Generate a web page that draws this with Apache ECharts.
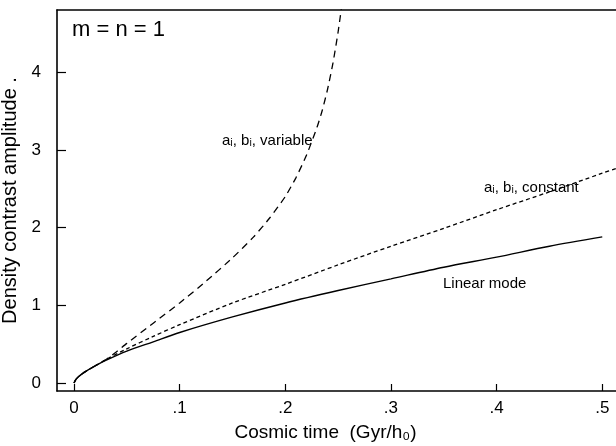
<!DOCTYPE html>
<html><head><meta charset="utf-8">
<script src="https://cdn.jsdelivr.net/npm/echarts@6/dist/echarts.min.js"></script>
<style>html,body{margin:0;padding:0;background:#fff}#c{width:616px;height:446px}</style>
</head><body><div id="c"></div>
<script>
const linearT = [0, 0.002, 0.005, 0.01, 0.02, 0.03, 0.05, 0.075, 0.1, 0.15, 0.2, 0.25, 0.3, 0.35, 0.4, 0.45, 0.5];
const linearV = [0, 0.05, 0.09, 0.14, 0.22, 0.29, 0.41, 0.53, 0.65, 0.85, 1.03, 1.19, 1.34, 1.49, 1.62, 1.76, 1.88];
const constT = [0, 0.002, 0.005, 0.01, 0.02, 0.03, 0.05, 0.075, 0.1, 0.15, 0.2, 0.25, 0.3, 0.35, 0.4, 0.45, 0.5, 0.513];
const constV = [0, 0.05, 0.09, 0.14, 0.22, 0.30, 0.44, 0.60, 0.75, 1.03, 1.27, 1.52, 1.76, 1.99, 2.23, 2.46, 2.70, 2.76];
const varT = [0, 0.002, 0.005, 0.01, 0.02, 0.03, 0.04, 0.05, 0.075, 0.1, 0.125, 0.15, 0.17, 0.185, 0.2, 0.21, 0.22, 0.23, 0.235, 0.24, 0.245, 0.25, 0.255, 0.26];
const varV = [0, 0.05, 0.09, 0.14, 0.22, 0.30, 0.40, 0.51, 0.77, 1.03, 1.31, 1.61, 1.88, 2.12, 2.40, 2.64, 2.93, 3.29, 3.51, 3.78, 4.11, 4.52, 5.02, 5.60];
const xTicks = [0, 0.1, 0.2, 0.3, 0.4, 0.5];
const xTickLabels = ['0', '.1', '.2', '.3', '.4', '.5'];
const yTicks = [0, 1, 2, 3, 4];
const yTickLabels = ['0', '1', '2', '3', '4'];

const FONT = 'Liberation Sans, Arial, sans-serif';
const zip = (a, b) => a.map((t, i) => [t, b[i]]);
const chart = echarts.init(document.getElementById('c'), null, {renderer: 'canvas'});
chart.setOption({
  animation: false,
  backgroundColor: '#fff',
  grid: {left: 57, top: 10, right: 0, bottom: 55, containLabel: false, outerBoundsMode: 'none'},
  xAxis: [{
    type: 'value', min: -0.0161, max: 0.513,
    axisLine: {show: true, onZero: false, lineStyle: {color: '#000', width: 1.6}},
    axisTick: {show: true, inside: true, length: 7, customValues: xTicks, lineStyle: {color: '#000', width: 1.2}},
    axisLabel: {customValues: xTicks, formatter: v => xTickLabels[xTicks.findIndex(t => Math.abs(t - v) < 1e-9)] ?? '',
      color: '#000', fontSize: 17, fontFamily: FONT, margin: 9},
    splitLine: {show: false},
    name: 'Cosmic time  (Gyr/h\u2080)', nameLocation: 'middle', nameGap: 32,
    nameTextStyle: {color: '#000', fontSize: 19, fontFamily: FONT, padding: [0, 22, 0, 0]}
  }, {
    type: 'value', position: 'top', min: -0.0161, max: 0.513,
    axisLine: {show: true, onZero: false, lineStyle: {color: '#000', width: 1.6}},
    axisTick: {show: false}, axisLabel: {show: false}, splitLine: {show: false}
  }],
  yAxis: {
    type: 'value', min: -0.103, max: 4.80,
    axisLine: {show: true, onZero: false, lineStyle: {color: '#000', width: 1.6}},
    axisTick: {show: true, inside: true, length: 9, customValues: yTicks, lineStyle: {color: '#000', width: 1.2}},
    axisLabel: {customValues: yTicks, formatter: v => yTickLabels[yTicks.indexOf(Math.round(v))] ?? '',
      color: '#000', fontSize: 17, fontFamily: FONT, margin: 16},
    splitLine: {show: false},
    name: 'Density contrast amplitude .', nameLocation: 'middle', nameGap: 29, nameRotate: 90,
    nameTextStyle: {color: '#000', fontSize: 20, fontFamily: FONT}
  },
  series: [
    {type: 'line', data: zip(linearT, linearV), smooth: 0.3, showSymbol: false, symbol: 'none',
      lineStyle: {color: '#000', width: 1.4, type: 'solid'}},
    {type: 'line', data: zip(constT, constV), smooth: 0.3, showSymbol: false, symbol: 'none',
      lineStyle: {color: '#000', width: 1.3, type: [4, 3]}},
    {type: 'line', data: zip(varT, varV), smooth: 0.2, showSymbol: false, symbol: 'none',
      lineStyle: {color: '#000', width: 1.3, type: [7, 5]}}
  ],
  graphic: [
    {type: 'text', left: 72, top: 19, style: {text: 'm = n = 1', fontSize: 22, fontFamily: FONT, fill: '#000'}},
    {type: 'text', left: 222, top: 133, style: {text: 'a\u1d62, b\u1d62, variable', fontSize: 15, fontFamily: FONT, fill: '#000'}},
    {type: 'text', left: 484, top: 180, style: {text: 'a\u1d62, b\u1d62, constant', fontSize: 15, fontFamily: FONT, fill: '#000'}},
    {type: 'text', left: 443, top: 276, style: {text: 'Linear mode', fontSize: 15, fontFamily: FONT, fill: '#000'}}
  ]
});
</script></body></html>
